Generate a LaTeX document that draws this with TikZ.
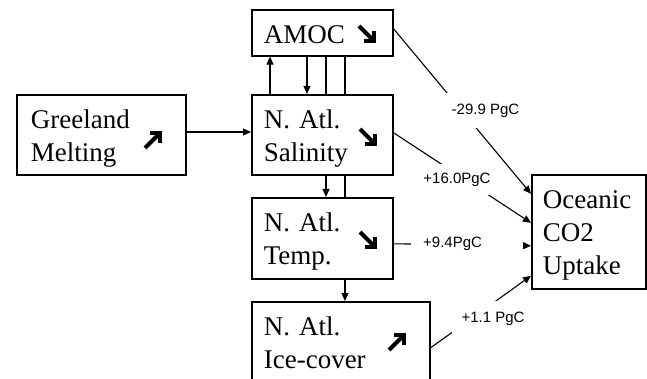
\documentclass[tikz,border=0pt]{standalone}
\usepackage{fontspec}
\setmainfont{Liberation Serif}
\setsansfont{Liberation Sans}
\usetikzlibrary{arrows.meta,calc}
\begin{document}
\begin{tikzpicture}[x=1pt,y=-1pt,
  >={Triangle[length=8pt,width=7pt]},
  box/.style={draw, line width=1.6pt, anchor=north west, inner xsep=12pt, inner ysep=0pt,
    align=left, font=\fontsize{27}{33}\selectfont, text height=34pt},
  conn/.style={line width=1.1pt},
  lab/.style={fill=white, font=\sffamily\fontsize{15}{18}\selectfont, inner sep=0pt,
    text height=11pt, text depth=3.5pt},
  glyph/.style={line width=4.2pt, line cap=butt, line join=miter},
  dnarr/.pic={\draw[glyph] (2,2)--(16,16); \draw[glyph] (7,17)--(17,17)--(17,7);},
  uparr/.pic={\draw[glyph] (2,17)--(16,3); \draw[glyph] (7,2)--(17,2)--(17,12);}
]
\useasboundingbox (0,0) rectangle (647,379);

% boxes
\node[box, text width=117pt, text depth=12pt] (amoc) at (251,9) {AMOC};
\node[box, text width=117pt, text depth=46pt] (sal) at (251,94) {N. Atl.\\Salinity};
\node[box, text width=117pt, text depth=47pt] (temp) at (251,197) {N. Atl.\\Temp.};
\node[box, text width=154pt, text depth=47pt] (ice) at (251,301) {N. Atl.\\Ice-cover};
\node[box, inner xsep=14pt, text width=141pt, text depth=46pt] (green) at (16,94) {Greeland\\Melting};
\node[box, inner xsep=11pt, text width=92pt, text depth=80pt] (ocean) at (531,174) {Oceanic\\CO2\\Uptake};

% trend glyphs
\pic at (357,24) {dnarr};
\pic at (358,127) {dnarr};
\pic at (358,230) {dnarr};
\pic at (387,333) {uparr};
\pic at (143,131) {uparr};

% helper coordinates for vertical connectors
\coordinate (xa) at (270,0);
\coordinate (xb) at (307,0);
\coordinate (xc) at (326,0);
\coordinate (xd) at (345,0);
\coordinate (yg) at (0,132);

% vertical connectors
\draw[conn,->] (sal.north -| xa) -- (amoc.south -| xa);
\draw[conn,->] (amoc.south -| xb) -- (sal.north -| xb);
\draw[conn] (amoc.south -| xc) -- (sal.north -| xc);
\draw[conn] (amoc.south -| xd) -- (sal.north -| xd);
\draw[conn,->] (sal.south -| xc) -- (temp.north -| xc);
\draw[conn] (sal.south -| xd) -- (temp.north -| xd);
\draw[conn,->] (temp.south -| xd) -- (ice.north -| xd);
\draw[conn,->] (green.east |- yg) -- (sal.west |- yg);

% connectors to oceanic uptake
\draw[conn,->] ([yshift=4pt]amoc.east) -- ([yshift=38pt]ocean.west);
\draw[conn,->] ([yshift=2pt]sal.east) -- ([yshift=9pt]ocean.west);
\draw[conn,->] ([yshift=-5.5pt]temp.east) -- ([yshift=-14pt]ocean.west);
\draw[conn,->] ([yshift=-5.5pt]ice.east) -- ([yshift=-44pt]ocean.west);

% labels
\node[lab, minimum width=79pt, minimum height=35pt] (l1) at (485.5,111) {-29.9 PgC};
\node[lab, minimum width=76pt, minimum height=31pt] (l2) at (457,180) {+16.0PgC};
\node[lab, anchor=west, minimum height=31pt, text width=88pt, align=left, inner xsep=12pt] (l3) at (411,243.5) {+9.4PgC};
\node[lab, minimum width=82pt, minimum height=36pt] (l4) at (493,318.5) {+1.1 PgC};
\end{tikzpicture}
\end{document}
